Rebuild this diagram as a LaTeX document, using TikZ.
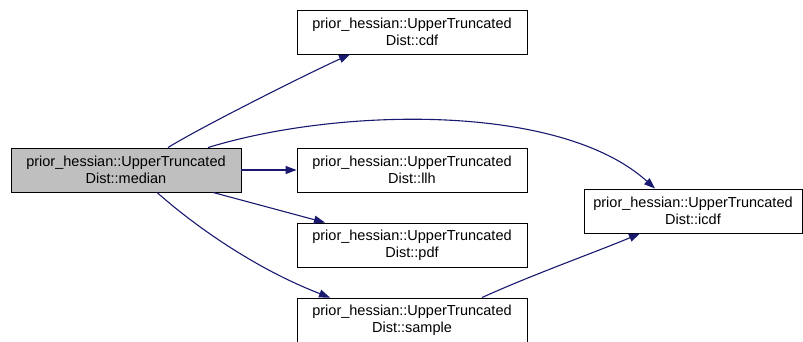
\documentclass[tikz,border=0pt]{standalone}
\usepackage{fontspec}
\setmainfont{Liberation Sans}
\usetikzlibrary{arrows.meta}
\definecolor{edgeblue}{HTML}{191970}
\definecolor{curfill}{HTML}{BFBFBF}
\begin{document}
\begin{tikzpicture}[x=1pt,y=-1pt,
  fnbox/.style={draw=black,line width=0.9pt,minimum height=44pt,inner sep=0pt,align=center,
    font=\fontsize{14.5}{17}\selectfont},
  conn/.style={draw=edgeblue,line width=1.1pt,-{Triangle[length=11pt,width=8pt]}}]
\useasboundingbox (0,0) rectangle (803,341);
\node[fnbox,fill=curfill,minimum width=230pt] (median) at (126,170) {prior\_hessian::UpperTruncated\\Dist::median};
\node[fnbox,minimum width=230pt] (cdf) at (412,32) {prior\_hessian::UpperTruncated\\Dist::cdf};
\node[fnbox,minimum width=230pt] (llh) at (412,170) {prior\_hessian::UpperTruncated\\Dist::llh};
\node[fnbox,minimum width=230pt] (pdf) at (412,245) {prior\_hessian::UpperTruncated\\Dist::pdf};
\node[fnbox,minimum width=230pt] (sample) at (412,320) {prior\_hessian::UpperTruncated\\Dist::sample};
\node[fnbox,minimum width=218pt] (icdf) at (693,211) {prior\_hessian::UpperTruncated\\Dist::icdf};
\draw[conn] ([xshift=42pt]median.north) .. controls +(32,-20) and +(-40,18) .. ([xshift=-62pt]cdf.south);
\draw[conn] ([xshift=82pt]median.north) .. controls +(130,-40) and +(-95,-86) .. ([xshift=-38pt]icdf.north);
\draw[conn] (median.east) -- (llh.west);
\draw[conn] ([xshift=87pt]median.south) -- ([xshift=-87pt]pdf.north);
\draw[conn] ([xshift=31pt]median.south) .. controls +(43,38) and +(-70,-27) .. ([xshift=-82pt]sample.north);
\draw[conn] ([xshift=70pt]sample.north) .. controls +(48,-22) and +(-40,17) .. ([xshift=-53pt]icdf.south);
\end{tikzpicture}
\end{document}
